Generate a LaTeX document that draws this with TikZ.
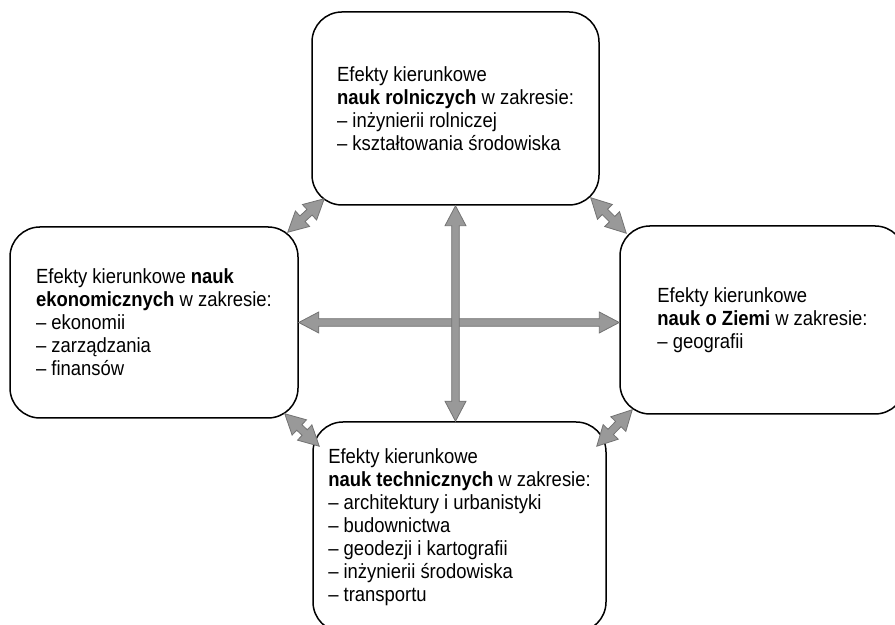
\documentclass[tikz,border=0pt]{standalone}
\usepackage{fontspec}
\setmainfont{Liberation Sans}[FakeStretch=0.9]
\usetikzlibrary{calc}
\usetikzlibrary{positioning}
\tikzset{%
  effbox/.style={rectangle,rounded corners=15pt,draw=black,line width=0.75pt,
    fill=white,align=left,inner sep=2pt,font=\fontsize{10.25}{11.5}\selectfont},
  fatarrow/.style={fill=black!40,draw=black!55,line width=0.4pt,line join=miter}
}
% double headed block arrow between two points
\newcommand*\myfatarrow[2]{
    \coordinate (fa-s) at #1;
    \coordinate (fa-e) at #2;
    \coordinate (fa-a) at ($(fa-s)!10pt!(fa-e)$);
    \coordinate (fa-b) at ($(fa-e)!10pt!(fa-s)$);
    \draw[fatarrow] (fa-s) -- ($(fa-a)!5.25pt!90:(fa-e)$) -- ($(fa-a)!1.9pt!90:(fa-e)$)
        -- ($(fa-b)!1.9pt!90:(fa-e)$) -- ($(fa-b)!5.25pt!90:(fa-e)$) -- (fa-e)
        -- ($(fa-b)!5.25pt!-90:(fa-e)$) -- ($(fa-b)!1.9pt!-90:(fa-e)$)
        -- ($(fa-a)!1.9pt!-90:(fa-e)$) -- ($(fa-a)!5.25pt!-90:(fa-e)$) -- cycle;
}
\begin{document}
\begin{tikzpicture}[x=0.5pt,y=0.5pt]
    \useasboundingbox (0,0) rectangle (895,625);
    \clip (0,0) rectangle (895,625);
    \node[effbox,minimum width=143.5pt,minimum height=96.5pt] (rol) at (455.5,516.5) {%
        Efekty kierunkowe\\
        \textbf{nauk rolniczych} w zakresie:\\
        – inżynierii rolniczej\\
        – kształtowania środowiska};
    \node[effbox,minimum width=144pt,minimum height=95.5pt] (eko) at (154,302.5) {%
        Efekty kierunkowe \textbf{nauk}\\
        \textbf{ekonomicznych} w zakresie:\\
        – ekonomii\\
        – zarządzania\\
        – finansów};
    \node[effbox,minimum width=142.5pt,minimum height=94pt] (zie) at (762.5,305) {%
        Efekty kierunkowe\\
        \textbf{nauk o Ziemi} w zakresie:\\
        – geografii};
    \node[effbox,minimum width=146.5pt,minimum height=105pt] (tech) at (459.5,98) {%
        Efekty kierunkowe\\
        \textbf{nauk technicznych} w zakresie:\\
        – architektury i urbanistyki\\
        – budownictwa\\
        – geodezji i kartografii\\
        – inżynierii środowiska\\
        – transportu};
    % cross
    \myfatarrow{(eko.east)}{(zie.west |- eko.east)}
    \myfatarrow{(rol.south)}{(tech.north -| rol.south)}
    % corners
    \myfatarrow{($(eko.north east)+(-11,-6)$)}{($(rol.south west)+(13,7)$)}
    \myfatarrow{($(rol.south east)+(-9,8)$)}{($(zie.north west)+(7,-8)$)}
    \myfatarrow{($(eko.south east)+(-14,5)$)}{($(tech.north west)+(7,-25)$)}
    \myfatarrow{($(tech.north east)+(-10,-25)$)}{($(zie.south west)+(13,5)$)}
\end{tikzpicture}
\end{document}
